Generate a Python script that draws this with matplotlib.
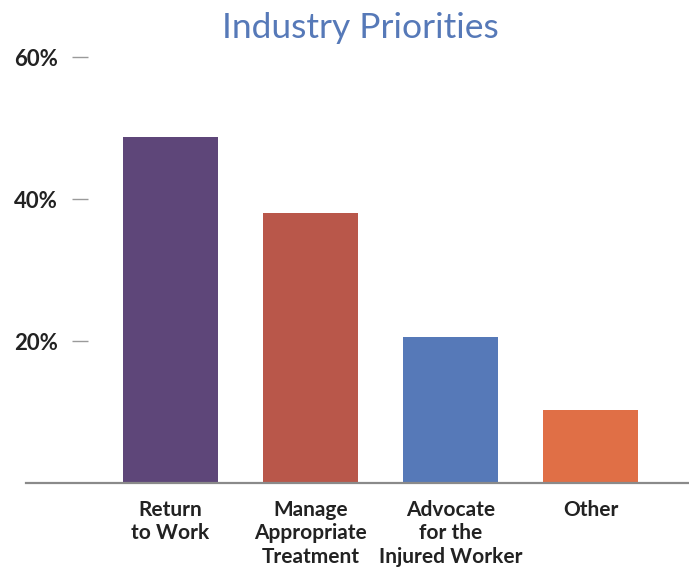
import matplotlib.pyplot as plt

categories = ["Return\nto Work", "Manage\nAppropriate\nTreatment",
              "Advocate\nfor the\nInjured Worker", "Other"]
values = [48.7, 38.0, 20.6, 10.3]
bar_colors = ["#5e4679", "#b9574a", "#5679b8", "#e06f46"]
y_ticks = [20, 40, 60]
y_tick_labels = ["20%", "40%", "60%"]

plt.rcParams['font.family'] = ['Lato', 'DejaVu Sans']

W, H = 689, 567
fig = plt.figure(figsize=(W / 100, H / 100), dpi=100)
# axes from x=26px to right edge, baseline at y=483px, 60% at y=57px
ax = fig.add_axes([26 / W, (H - 483) / H, 1 - 26 / W, (483 - 57) / H])

x = list(range(len(categories)))
ax.bar(x, values, width=0.68, color=bar_colors)
ax.set_xlim(-1.032, -1.032 + 663 / 140)
ax.set_ylim(0, 60)

for s in ['top', 'right']:
    ax.spines[s].set_visible(False)
ax.spines['bottom'].set_color('#8a8a8a')
ax.spines['bottom'].set_linewidth(1.6)
ax.spines['left'].set_position(('axes', (88 - 26) / 663))
ax.spines['left'].set_visible(False)

ax.set_yticks(y_ticks)
ax.set_yticklabels(y_tick_labels, fontsize=16, fontweight='bold', color='#222222')
ax.tick_params(axis='y', length=11.5, width=1.0, color='#9a9a9a', pad=10)

ax.set_xticks(x)
ax.set_xticklabels(categories, fontsize=15, fontweight='bold', color='#222222',
                   linespacing=1.22)
ax.tick_params(axis='x', length=0, pad=12)

fig.text(360 / W, 1 - 28 / H, "Industry Priorities", fontsize=25.5, color='#5679b8',
         ha='center', va='center')

fig.savefig('out.png', dpi=100)
